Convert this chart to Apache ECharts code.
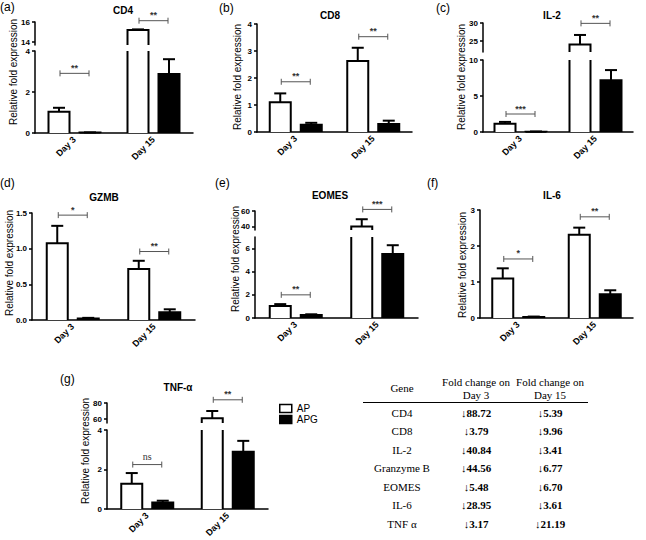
<!DOCTYPE html>
<html><head><meta charset="utf-8">
<script src="https://cdn.jsdelivr.net/npm/echarts@6/dist/echarts.min.js"></script>
<style>html,body{margin:0;padding:0;background:#fff}#chart{width:646px;height:540px}</style>
</head><body><div id="chart"></div>
<script>
const categories = ['Day 3', 'Day 15'];
const groupNames = ['AP', 'APG'];

// (a) CD4
const cd4AP = [1.04, 15.2];
const cd4APErr = [0.19, 0.06];
const cd4APG = [0.02, 2.88];
const cd4APGErr = [0.01, 0.72];
const cd4Sig = ['**', '**'];
const cd4SigY = [2.91, 16.13];
const cd4Ticks = [0, 2, 4];
const cd4UpperTicks = [14, 16];

// (b) CD8
const cd8AP = [1.1, 2.63];
const cd8APErr = [0.33, 0.49];
const cd8APG = [0.27, 0.3];
const cd8APGErr = [0.07, 0.12];
const cd8Sig = ['**', '**'];
const cd8SigY = [1.86, 3.53];
const cd8Ticks = [0, 1, 2, 3, 4];

// (c) IL-2
const il2AP = [1.15, 24.1];
const il2APErr = [0.25, 2.6];
const il2APG = [0.05, 7.2];
const il2APGErr = [0.02, 1.4];
const il2Sig = ['***', '**'];
const il2SigY = [2.5, 29.9];
const il2Ticks = [0, 5, 10];
const il2UpperTicks = [25, 30];

// (d) GZMB
const gzmbAP = [1.075, 0.715];
const gzmbAPErr = [0.245, 0.115];
const gzmbAPG = [0.02, 0.107];
const gzmbAPGErr = [0.01, 0.043];
const gzmbSig = ['*', '**'];
const gzmbSigY = [1.47, 0.96];
const gzmbTicks = [0, 0.5, 1, 1.5];
const gzmbTickLabels = ['0.0', '0.5', '1.0', '1.5'];

// (e) EOMES
const eomesAP = [1.04, 40.4];
const eomesAPErr = [0.16, 9.2];
const eomesAPG = [0.26, 5.54];
const eomesAPGErr = [0.06, 0.75];
const eomesSig = ['**', '***'];
const eomesSigY = [2.0, 62];
const eomesTicks = [0, 2, 4, 6];
const eomesUpperTicks = [40, 60];

// (f) IL-6
const il6AP = [1.1, 2.31];
const il6APErr = [0.28, 0.2];
const il6APG = [0.03, 0.66];
const il6APGErr = [0.01, 0.11];
const il6Sig = ['*', '**'];
const il6SigY = [1.64, 2.81];
const il6Ticks = [0, 1, 2, 3];

// (g) TNF-α
const tnfAP = [1.28, 61];
const tnfAPErr = [0.54, 9];
const tnfAPG = [0.33, 2.9];
const tnfAPGErr = [0.09, 0.55];
const tnfSig = ['ns', '**'];
const tnfSigY = [2.25, 84];
const tnfTicks = [0, 2, 4];
const tnfUpperTicks = [60, 80];

// Table
const tableHeader = ['Gene', 'Fold change on', 'Day 3', 'Fold change on', 'Day 15'];
const tableGenes = ['CD4', 'CD8', 'IL-2', 'Granzyme B', 'EOMES', 'IL-6', 'TNF α'];
const foldDay3 = [88.72, 3.79, 40.84, 44.56, 5.48, 28.95, 3.17];
const foldDay15 = [5.39, 9.96, 3.41, 6.77, 6.70, 3.61, 21.19];

const FONT = '"Liberation Sans", Arial, Helvetica, sans-serif';
const SERIF = '"Liberation Serif", "Times New Roman", serif';
const BAR_W = 21, BAR_OFF = 15.5, CAP = 12, SIG_HALF = 14.5;

const panels = [
  {label:'(a)', lx:0, ly:7, title:'CD4', tx:123, ty:10, ap:cd4AP, apErr:cd4APErr, apg:cd4APG, apgErr:cd4APGErr, sig:cd4Sig, sigY:cd4SigY,
   ticks:cd4Ticks, left:35, right:193, top:51, bottom:133, min:0, max:4,
   up:{top:22, bottom:45, min:13.7, max:16, ticks:cd4UpperTicks}, nameX:13.5, nameY:72},
  {label:'(b)', lx:219, ly:8, title:'CD8', tx:330, ty:15, ap:cd8AP, apErr:cd8APErr, apg:cd8APG, apgErr:cd8APGErr, sig:cd8Sig, sigY:cd8SigY,
   ticks:cd8Ticks, left:257, right:412, top:24, bottom:132, min:0, max:4, nameX:237, nameY:77},
  {label:'(c)', lx:436, ly:8, title:'IL-2', tx:552, ty:15, ap:il2AP, apErr:il2APErr, apg:il2APG, apgErr:il2APGErr, sig:il2Sig, sigY:il2SigY,
   ticks:il2Ticks, left:483, right:633, top:60, bottom:132, min:0, max:10,
   up:{top:23, bottom:52, min:22, max:30, ticks:il2UpperTicks}, nameX:461, nameY:77},
  {label:'(d)', lx:0, ly:183, title:'GZMB', tx:104, ty:197, ap:gzmbAP, apErr:gzmbAPErr, apg:gzmbAPG, apgErr:gzmbAPGErr, sig:gzmbSig, sigY:gzmbSigY,
   ticks:gzmbTicks, tickLabels:gzmbTickLabels, left:32, right:195, top:213, bottom:320, min:0, max:1.5, nameX:9, nameY:263},
  {label:'(e)', lx:215, ly:183, title:'EOMES', tx:330, ty:195, ap:eomesAP, apErr:eomesAPErr, apg:eomesAPG, apgErr:eomesAPGErr, sig:eomesSig, sigY:eomesSigY,
   ticks:eomesTicks, left:255, right:418, top:237, bottom:318, min:0, max:7,
   up:{top:211, bottom:230, min:36, max:60, ticks:eomesUpperTicks}, nameX:235, nameY:259},
  {label:'(f)', lx:427, ly:183, title:'IL-6', tx:552, ty:195, ap:il6AP, apErr:il6APErr, apg:il6APG, apgErr:il6APGErr, sig:il6Sig, sigY:il6SigY,
   ticks:il6Ticks, left:480, right:633, top:210, bottom:318, min:0, max:3, nameX:462, nameY:265},
  {label:'(g)', lx:60, ly:379, title:'TNF-α', tx:178, ty:387, ap:tnfAP, apErr:tnfAPErr, apg:tnfAPG, apgErr:tnfAPGErr, sig:tnfSig, sigY:tnfSigY,
   ticks:tnfTicks, left:107, right:268, top:430, bottom:509, min:0, max:4,
   up:{top:403, bottom:423, min:55, max:80, ticks:tnfUpperTicks}, nameX:85, nameY:451}
];

const grid = [], xAxis = [], yAxis = [], series = [], graphic = [];
const lineCol = '#000';

function barRenderer(offset, fill, ymin, ymax) {
  return function (params, api) {
    const cs = params.coordSys;
    const yTop = cs.y, yBot = cs.y + cs.height;
    const i = api.value(0), v = api.value(1), e = api.value(2);
    if (v < ymin) return null;
    const pt = api.coord([i, v]);
    const xc = pt[0] + offset;
    const openTop = v > ymax;
    const top = openTop ? yTop : pt[1];
    const xl = xc - BAR_W / 2, xr = xc + BAR_W / 2;
    const ls = {stroke: '#000', lineWidth: 2, fill: null};
    const children = [{type: 'rect', shape: {x: xl, y: top, width: BAR_W, height: Math.max(yBot - top, 0)}, style: {fill: fill}}];
    if (openTop) {
      children.push({type: 'line', shape: {x1: xl, y1: yTop, x2: xl, y2: yBot}, style: ls});
      children.push({type: 'line', shape: {x1: xr, y1: yTop, x2: xr, y2: yBot}, style: ls});
    } else {
      children.push({type: 'polyline', shape: {points: [[xl, yBot], [xl, top], [xr, top], [xr, yBot]]}, style: ls});
      if (e > 0) {
        const ye = api.coord([i, v + e])[1];
        children.push({type: 'line', shape: {x1: xc, y1: top, x2: xc, y2: ye}, style: ls});
        children.push({type: 'line', shape: {x1: xc - CAP / 2, y1: ye, x2: xc + CAP / 2, y2: ye}, style: ls});
      }
    }
    return {type: 'group', children: children};
  };
}

function sigRenderer(texts) {
  return function (params, api) {
    const i = api.value(0), y = api.value(1), k = api.value(2);
    const pt = api.coord([i, y]);
    const x1 = pt[0] - SIG_HALF, x2 = pt[0] + SIG_HALF, yy = pt[1];
    const st = {stroke: '#555', lineWidth: 1};
    const txt = texts[k];
    const isNs = txt === 'ns';
    return {type: 'group', children: [
      {type: 'line', shape: {x1: x1, y1: yy, x2: x2, y2: yy}, style: st},
      {type: 'line', shape: {x1: x1, y1: yy - 3, x2: x1, y2: yy + 3}, style: st},
      {type: 'line', shape: {x1: x2, y1: yy - 3, x2: x2, y2: yy + 3}, style: st},
      {type: 'text', x: pt[0], y: isNs ? yy - 3 : yy - 1, style: {text: txt, textAlign: 'center', textVerticalAlign: 'bottom',
        fontSize: isNs ? 10 : 9, fontWeight: isNs ? 'normal' : 'bold', fill: '#333', fontFamily: isNs ? SERIF : FONT}}
    ]};
  };
}

function labelFor(ticks, labels) {
  return function (v) {
    for (let j = 0; j < ticks.length; j++) {
      if (Math.abs(ticks[j] - v) < 1e-9) return labels ? labels[j] : String(ticks[j]);
    }
    return '';
  };
}

panels.forEach(function (p) {
  function addGrid(top, bottom, ymin, ymax, ticks, labels, showX) {
    const idx = grid.length;
    grid.push({left: p.left, top: top, width: p.right - p.left, height: bottom - top});
    xAxis.push({type: 'category', gridIndex: idx, data: categories, show: showX,
      axisLine: {lineStyle: {color: lineCol, width: 1.5}},
      axisTick: {alignWithLabel: true, length: 3, lineStyle: {color: lineCol, width: 1.5}},
      axisLabel: {rotate: 45, fontSize: 9, fontWeight: 'bold', color: '#000', fontFamily: FONT, margin: 5},
      splitLine: {show: false}});
    yAxis.push({type: 'value', gridIndex: idx, min: ymin, max: ymax,
      axisLine: {show: true, lineStyle: {color: lineCol, width: 1.5}},
      axisTick: {show: true, length: 3, customValues: ticks, lineStyle: {color: lineCol, width: 1.5}},
      axisLabel: {customValues: ticks, formatter: labelFor(ticks, labels), fontSize: 8, fontWeight: 'bold', color: '#000', fontFamily: FONT, margin: 5},
      splitLine: {show: false}});
    const groups = [[p.ap, p.apErr, -BAR_OFF, '#fff', groupNames[0]], [p.apg, p.apgErr, BAR_OFF, '#000', groupNames[1]]];
    groups.forEach(function (g) {
      series.push({type: 'custom', name: g[4], xAxisIndex: idx, yAxisIndex: idx, clip: false, silent: true,
        itemStyle: {color: g[3], borderColor: '#000', borderWidth: 1.5},
        data: g[0].map(function (v, i) { return [i, v, g[1][i]]; }),
        renderItem: barRenderer(g[2], g[3], ymin, ymax)});
    });
    return idx;
  }
  const lowIdx = addGrid(p.top, p.bottom, p.min, p.max, p.ticks, p.tickLabels, true);
  let upIdx = null;
  if (p.up) upIdx = addGrid(p.up.top, p.up.bottom, p.up.min, p.up.max, p.up.ticks, null, false);
  // significance brackets
  const lowData = [], upData = [];
  p.sigY.forEach(function (y, i) {
    if (upIdx !== null && y > p.max) upData.push([i, y, i]); else lowData.push([i, y, i]);
  });
  series.push({type: 'custom', xAxisIndex: lowIdx, yAxisIndex: lowIdx, clip: false, silent: true, data: lowData, renderItem: sigRenderer(p.sig)});
  if (upIdx !== null) series.push({type: 'custom', xAxisIndex: upIdx, yAxisIndex: upIdx, clip: false, silent: true, data: upData, renderItem: sigRenderer(p.sig)});
  // texts
  graphic.push({type: 'text', x: p.lx, y: p.ly, style: {text: p.label, fontSize: 12, fontFamily: FONT, fill: '#000', textVerticalAlign: 'middle'}});
  graphic.push({type: 'text', x: p.tx, y: p.ty, style: {text: p.title, fontSize: 10, fontWeight: 'bold', fontFamily: FONT, fill: '#000', textAlign: 'center', textVerticalAlign: 'middle'}});
  graphic.push({type: 'text', x: p.nameX, y: p.nameY, rotation: Math.PI / 2, style: {text: 'Relative fold expression', fontSize: 10, fontFamily: FONT, fill: '#000', textAlign: 'center', textVerticalAlign: 'middle'}});
});

// table
const colX = [402, 476, 550];
const rowY0 = 412.5, rowStep = 18.5;
function tText(x, y, t, bold) {
  graphic.push({type: 'text', x: x, y: y, style: {text: t, fontSize: 11, fontFamily: SERIF, fontWeight: bold ? 'bold' : 'normal', fill: '#000', textAlign: 'center', textVerticalAlign: 'middle'}});
}
tText(colX[0], 388, tableHeader[0], false);
tText(colX[1], 382, tableHeader[1], false);
tText(colX[1], 395, tableHeader[2], false);
tText(colX[2], 382, tableHeader[3], false);
tText(colX[2], 395, tableHeader[4], false);
graphic.push({type: 'line', shape: {x1: 363, y1: 402.5, x2: 588, y2: 402.5}, style: {stroke: '#000', lineWidth: 1}});
tableGenes.forEach(function (g, i) {
  const y = rowY0 + i * rowStep;
  tText(colX[0], y, g, false);
  tText(colX[1], y, '↓' + foldDay3[i].toFixed(2), true);
  tText(colX[2], y, '↓' + foldDay15[i].toFixed(2), true);
});

const chart = echarts.init(document.getElementById('chart'), null, {renderer: 'svg'});
chart.setOption({
  animation: false,
  backgroundColor: '#fff',
  grid: grid, xAxis: xAxis, yAxis: yAxis, series: series, graphic: graphic,
  legend: {
    data: [{name: 'AP', itemStyle: {color: '#fff', borderColor: '#000', borderWidth: 1.5}},
           {name: 'APG', itemStyle: {color: '#000', borderColor: '#000', borderWidth: 1.5}}],
    icon: 'rect', orient: 'vertical', left: 279, top: 403.5, itemWidth: 12, itemHeight: 8, itemGap: 1,
    selectedMode: false,
    textStyle: {fontSize: 10, fontFamily: FONT, color: '#000', padding: [0, 0, 0, 0]},
    padding: 0
  }
});
</script></body></html>
